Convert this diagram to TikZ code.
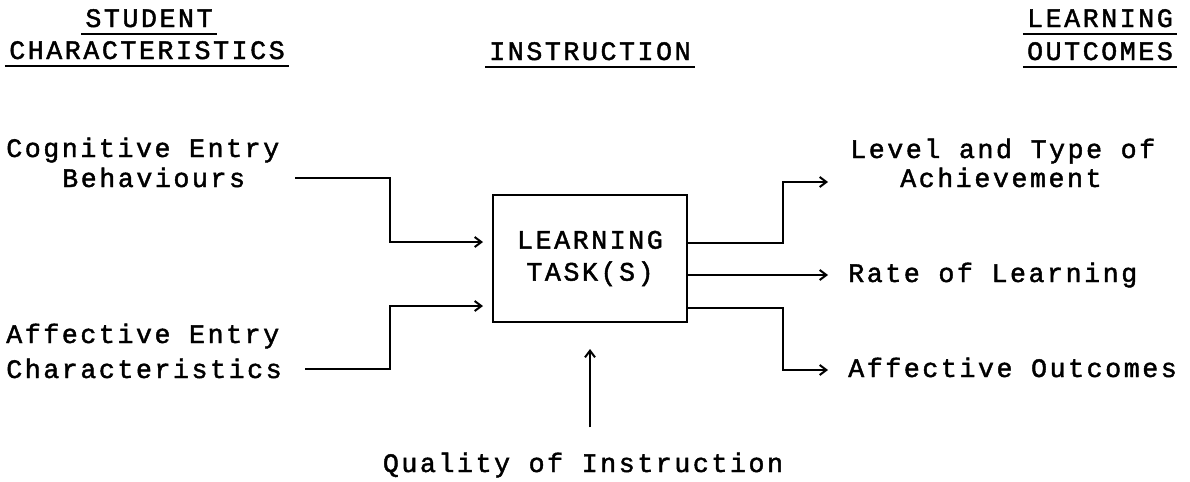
\documentclass[tikz,border=0pt]{standalone}
\usepackage{fontspec}
\newfontfamily\typewriter{Liberation Mono}[LetterSpace=9.5,BoldFont={Liberation Mono},
  BoldFeatures={FakeBold=1.6}]
\usetikzlibrary{calc,arrows.meta}

\tikzset{
  tw/.style={font=\typewriter\bfseries\fontsize{20}{22.5}\selectfont, inner sep=0pt},
  heading/.style={tw, anchor=base},
  side/.style={tw, anchor=base west},
  flow/.style={line width=1.5pt, -{Straight Barb[length=5pt,width=7.5pt]}},
  underline/.style={line width=1.6pt},
}

\begin{document}
\begin{tikzpicture}[x=0.75pt,y=-0.75pt]
\useasboundingbox (0,0) rectangle (1190,482);

% column headings
\node[heading] (stu) at (149,27) {STUDENT};
\node[heading] (chr) at (147,59) {CHARACTERISTICS};
\node[heading] (ins) at (590,60) {INSTRUCTION};
\node[heading] (lrn) at (1100,27) {LEARNING};
\node[heading] (out) at (1100,60) {OUTCOMES};
\foreach \n in {stu,chr,ins,lrn,out}
  \draw[underline] ($(\n.base west)+(-4,7)$) -- ($(\n.base east)+(4,7)$);

% the task box
\node[tw, draw, line width=1.5pt, align=center, minimum width=145.5pt,
      minimum height=95.25pt] (task) at (590,258.5) {LEARNING\\[1.5pt]TASK(S)};

% entry characteristics
\node[side] (cog) at (6,157) {Cognitive Entry};
\node[side] (beh) at (62,187) {Behaviours};
\node[side] (aff) at (6,343) {Affective Entry};
\node[side] (cha) at (6,378) {Characteristics};

% outcomes
\node[side] (lvl) at (850,158) {Level and Type of};
\node[side] (ach) at (900,187) {Achievement};
\node[side] (rate) at (848,282) {Rate of Learning};
\node[side] (aout) at (848,377) {Affective Outcomes};

\node[heading] (qual) at (583,472) {Quality of Instruction};

\coordinate (cogout) at (295,178);
\coordinate (affout) at (305,369);
\coordinate (lvlin) at (828,182);
\coordinate (ratein) at (828,275);
\coordinate (aoutin) at (828,370);

\draw[flow] (cogout) -- ++(95,0) |- ($(task.west)+(-9,-16.5)$);
\draw[flow] (affout) -- ++(85,0) |- ($(task.west)+(-9,47.5)$);
\draw[flow] ($(task.east)+(0,-15.5)$) -- ++(95,0) |- (lvlin);
\draw[flow] ($(task.east)+(0,16.5)$) -- (ratein);
\draw[flow] ($(task.east)+(0,49.5)$) -- ++(95,0) |- (aoutin);
\draw[flow] ($(qual.north)+(7,-25)$) -- ($(task.south)+(0,26)$);
\end{tikzpicture}
\end{document}
